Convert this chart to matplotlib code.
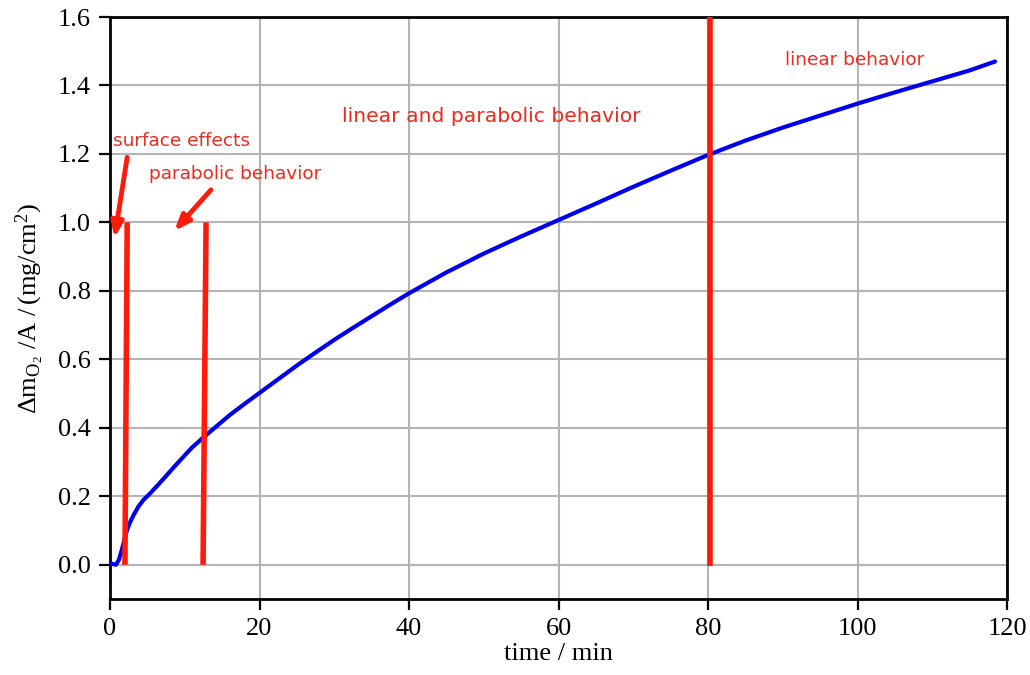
import matplotlib
matplotlib.use("Agg")
import matplotlib.pyplot as plt

# Data
time_min = [0, 0.4, 0.8, 1.2, 1.6, 2.0, 2.3, 2.7, 3.2, 3.8, 4.5, 5.3, 6.2, 7.2,
            8.5, 9.8, 11.0, 12.5, 14.0, 16.0, 18.0, 20.0, 22.5, 25, 27.5, 30,
            32.5, 35, 37.5, 40, 45, 50, 55, 60, 65, 70, 75, 80, 85, 90, 95,
            100, 105, 110, 115, 118.4]
mass_gain = [0.005, 0.002, 0.0, 0.015, 0.045, 0.08, 0.103, 0.125, 0.147, 0.17,
             0.19, 0.207, 0.228, 0.252, 0.284, 0.315, 0.343, 0.372, 0.4, 0.437, 0.47,
             0.502, 0.542, 0.582, 0.62, 0.657, 0.692, 0.726, 0.76, 0.793,
             0.854, 0.909, 0.959, 1.007, 1.055, 1.104, 1.151, 1.197, 1.239,
             1.277, 1.312, 1.347, 1.38, 1.412, 1.444, 1.47]

# Red boundary lines: (x_bottom, y_bottom, x_top, y_top)
boundary_x0 = [2.0, 12.45, 80.3]
boundary_y0 = [0.0, 0.0, -0.005]
boundary_x1 = [2.3, 12.85, 80.3]
boundary_y1 = [1.0, 1.0, 1.6]

labels = ["surface effects", "parabolic behavior",
          "linear and parabolic behavior", "linear behavior"]
label_x = [0.4, 5.2, 31.0, 90.3]
label_y = [1.237, 1.14, 1.31, 1.475]
label_size = [13.3, 13.3, 14.6, 13.3]

arrow_start_x = [2.3, 13.5]
arrow_start_y = [1.19, 1.095]
arrow_end_x = [0.6, 8.6]
arrow_end_y = [0.955, 0.975]

plt.rcParams['mathtext.fontset'] = 'custom'
plt.rcParams['mathtext.rm'] = 'Liberation Serif'
plt.rcParams['mathtext.it'] = 'Liberation Serif'

fig = plt.figure(figsize=(10.3, 6.75), dpi=100)
ax = fig.add_axes([0.1068, 0.1126, 0.8709, 0.8622])

ax.plot(time_min, mass_gain, color='#0000ee', lw=3, zorder=3,
        solid_capstyle='round', solid_joinstyle='round')

for x0, y0, x1, y1 in zip(boundary_x0, boundary_y0, boundary_x1, boundary_y1):
    ax.plot([x0, x1], [y0, y1], color='#ff1a0a', lw=4, zorder=4, solid_capstyle='butt')

for txt, x, y, s in zip(labels, label_x, label_y, label_size):
    ax.text(x, y, txt, color='#ec2a1e', fontsize=s, family='DejaVu Sans',
            ha='left', va='center', zorder=5)

for sx, sy, ex, ey in zip(arrow_start_x, arrow_start_y, arrow_end_x, arrow_end_y):
    ax.annotate('', xy=(ex, ey), xytext=(sx, sy),
                arrowprops=dict(arrowstyle='-|>,head_length=0.9,head_width=0.35',
                                color='#ff1a0a', lw=3.5, shrinkA=0, shrinkB=0),
                zorder=5)

ax.set_xlim(0, 120)
ax.set_ylim(-0.1, 1.6)
ax.set_xticks([0, 20, 40, 60, 80, 100, 120])
ax.set_yticks([0.0, 0.2, 0.4, 0.6, 0.8, 1.0, 1.2, 1.4, 1.6])
ax.set_yticklabels(['0.0', '0.2', '0.4', '0.6', '0.8', '1.0', '1.2', '1.4', '1.6'])
ax.grid(True, color='#b4b4b4', lw=1.5)
ax.set_axisbelow(True)

for lab in ax.get_xticklabels() + ax.get_yticklabels():
    lab.set_family('Liberation Serif')
    lab.set_fontsize(19)
ax.tick_params(direction='out', length=8, width=1.6, color='black', pad=6)
for sp in ax.spines.values():
    sp.set_linewidth(2)
    sp.set_color('black')

ax.set_xlabel('time / min', family='Liberation Serif', fontsize=19, labelpad=2)
ax.set_ylabel(r'$\Delta\mathrm{m}_{\mathrm{O}_2}\ /\mathrm{A}\ /\,(\mathrm{mg/cm}^2)$',
              fontsize=19, labelpad=8)

fig.savefig('out.png', dpi=100)
